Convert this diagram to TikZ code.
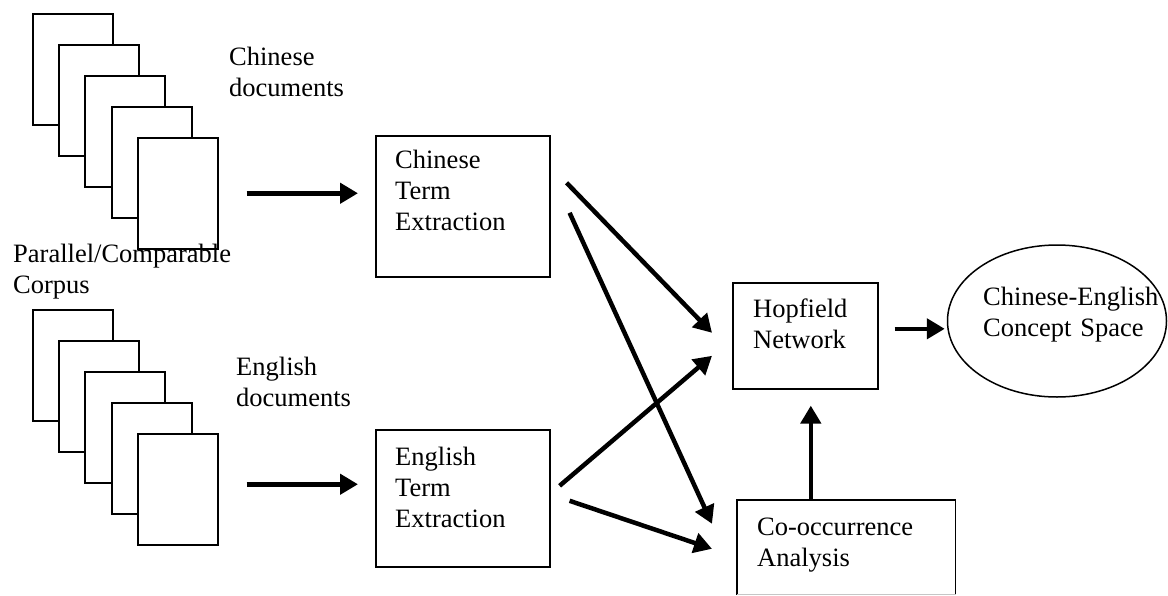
\documentclass[tikz,border=0pt]{standalone}
\usepackage{fontspec}
\setmainfont{Liberation Serif}
\usetikzlibrary{arrows.meta,shapes.geometric}
\begin{document}
\begin{tikzpicture}[x=1pt,y=-1pt,
  page/.style={draw,fill=white,line width=1.5pt,minimum width=80pt,minimum height=111pt,anchor=north west,inner sep=0pt},
  box/.style={draw,line width=1.6pt,anchor=north west,inner sep=0pt},
  txt/.style={anchor=base west,inner sep=0pt,align=left,text width=260pt,font=\fontsize{26.5}{31}\selectfont},
  arr/.style={line width=4.5pt,-{Triangle[length=18pt,width=20pt]}}
]
\useasboundingbox (0,0) rectangle (1168,595);

% document stacks
\foreach \i/\x/\y in {1/32/13,2/58/44,3/84/75,4/111/106,5/137/137}
  \node[page] (cd\i) at (\x,\y) {};
\foreach \i/\x/\y in {1/32/309,2/58/340,3/84/371,4/111/402,5/137/433}
  \node[page] (ed\i) at (\x,\y) {};

% boxes
\node[box,minimum width=174pt,minimum height=141pt] (cte) at (375,135) {};
\node[box,minimum width=174pt,minimum height=137pt] (ete) at (375,429) {};
\node[box,minimum width=145pt,minimum height=106pt] (hop) at (732,282) {};
\node[box,draw=none,minimum width=217pt,minimum height=93pt] (coa) at (737,500) {};
\draw[line width=1.6pt] (coa.south west) -- (coa.north west) -- (coa.north east) -- (coa.south east);
\draw[line width=1pt,gray!45] (coa.south west) -- (coa.south east);
\node[ellipse,draw,line width=1.5pt,minimum width=219pt,minimum height=152pt,inner sep=0pt] (cs) at (1057,321) {};

% texts
\node[txt] (tcd) at (229,65) {Chinese\\documents};
\node[txt] (tpc) at (13,262) {Parallel/Comparable\\Corpus};
\node[txt] (ted) at (236,375) {English\\documents};
\node[txt] (tct) at ([xshift=20pt,yshift=-33pt]cte.north west) {Chinese\\Term\\Extraction};
\node[txt] (tet) at ([xshift=20pt,yshift=-36pt]ete.north west) {English\\Term\\Extraction};
\node[txt] (thn) at ([xshift=21pt,yshift=-35pt]hop.north west) {Hopfield\\Network};
\node[txt] (tca) at ([xshift=20pt,yshift=-35pt]coa.north west) {Co-occurrence\\Analysis};
\node[txt] (tcs) at (983,305) {Chinese-English\\Concept Space};

% arrows
\coordinate (hs) at ([xshift=16pt,yshift=7pt]hop.east);
\draw[arr] ([xshift=28pt]cd5.east) -- ([xshift=-17pt]cte.west |- cd5.east);
\draw[arr] ([xshift=28pt,yshift=5pt]ed5.east) -- ([xshift=-17pt,yshift=5pt]ete.west |- ed5.east);
\draw[arr] ([xshift=16pt,yshift=23.5pt]cte.east) -- ([xshift=-20pt,yshift=3pt]hop.west);
\draw[arr] ([xshift=19pt,yshift=-6.5pt]cte.east) -- ([xshift=-25pt,yshift=23.5pt]coa.west);
\draw[arr] ([xshift=9pt,yshift=12.5pt]ete.east) -- ([xshift=-20pt,yshift=-20pt]hop.west);
\draw[arr] ([xshift=19pt,yshift=-2.5pt]ete.east) -- ([xshift=-25pt,yshift=-1.5pt]coa.west);
\draw[arr] (hs) -- ([xshift=-2pt]cs.west |- hs);
\draw[arr] ([xshift=5.5pt]hop.south |- coa.north) -- ([xshift=5.5pt,yshift=-16pt]hop.south);
\end{tikzpicture}
\end{document}
